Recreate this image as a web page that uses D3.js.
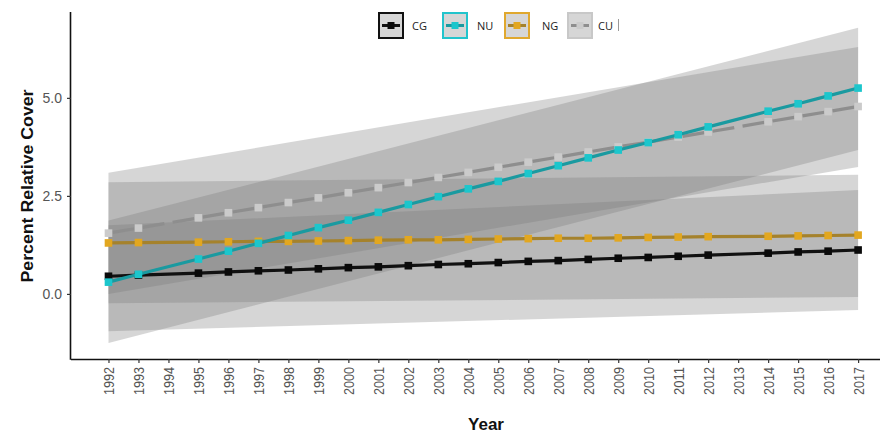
<!DOCTYPE html>
<html>
<head>
<meta charset="utf-8">
<script src="https://cdn.jsdelivr.net/npm/d3@7"></script>
<style>
  html, body { margin: 0; padding: 0; background: #fff; }
  svg { display: block; }
</style>
</head>
<body>
<svg id="chart" width="885" height="434"></svg>
<script>
// Survey years (no samples in 1994 and 2013)
const years = [1992, 1993, 1995, 1996, 1997, 1998, 1999, 2000, 2001, 2002, 2003,
  2004, 2005, 2006, 2007, 2008, 2009, 2010, 2011, 2012, 2014, 2015, 2016, 2017];

// Fitted percent relative cover per treatment
const cgValues = [0.45, 0.48, 0.53, 0.56, 0.59, 0.61, 0.64, 0.67, 0.69, 0.72, 0.75,
  0.77, 0.80, 0.83, 0.85, 0.88, 0.91, 0.93, 0.96, 0.99, 1.04, 1.07, 1.09, 1.12];
const nuValues = [0.30, 0.50, 0.89, 1.09, 1.29, 1.49, 1.69, 1.88, 2.08, 2.28, 2.48,
  2.68, 2.87, 3.07, 3.27, 3.47, 3.67, 3.86, 4.06, 4.26, 4.66, 4.85, 5.05, 5.25];
const ngValues = [1.30, 1.31, 1.32, 1.33, 1.34, 1.34, 1.35, 1.36, 1.37, 1.38, 1.38,
  1.39, 1.40, 1.41, 1.42, 1.42, 1.43, 1.44, 1.45, 1.46, 1.47, 1.48, 1.49, 1.50];
const cuValues = [1.55, 1.68, 1.94, 2.07, 2.20, 2.33, 2.45, 2.58, 2.71, 2.84, 2.97,
  3.10, 3.23, 3.36, 3.49, 3.62, 3.75, 3.87, 4.00, 4.13, 4.39, 4.52, 4.65, 4.78];

// Confidence ribbons (straight edges between first and last year)
const bandYears = [1992, 2017];
const cgLow = [-0.95, -0.41], cgHigh = [1.75, 2.65];
const nuLow = [-1.25, 3.67], nuHigh = [1.87, 6.79];
const ngLow = [-0.24, -0.08], ngHigh = [2.85, 3.04];
const cuLow = [0.00, 3.24], cuHigh = [3.09, 6.30];

// Axis ticks
const tickYears = d3.range(1992, 2018);
const yTicks = [0, 2.5, 5.0];
const seriesNames = ["CG", "NU", "NG", "CU"];

const series = [
  { name: "CG", values: cgValues, low: cgLow, high: cgHigh, line: "#111111", marker: "#0a0a0a", border: "#111111", dash: null },
  { name: "NG", values: ngValues, low: ngLow, high: ngHigh, line: "#a5822c", marker: "#e2a720", border: "#e0a82e", dash: null },
  { name: "CU", values: cuValues, low: cuLow, high: cuHigh, line: "#8e8e8e", marker: "#cbcbcb", border: "#c8c8c8", dash: "22 8.42" },
  { name: "NU", values: nuValues, low: nuLow, high: nuHigh, line: "#1a9aa0", marker: "#1cc6cc", border: "#22c4cc", dash: null }
];
const byName = Object.fromEntries(series.map(s => [s.name, s]));

const svg = d3.select("#chart");
const plotLeft = 71, plotRight = 880, plotTop = 12, plotBottom = 359;

const x = d3.scaleLinear().domain([1990.75, 2017.73]).range([plotLeft, plotRight]);
const y = d3.scaleLinear().domain([-1.66, 7.19]).range([plotBottom, plotTop]);

// Ribbons
const area = d3.area()
  .x(d => x(d.year))
  .y0(d => y(d.low))
  .y1(d => y(d.high));
const bands = svg.append("g");
["CG", "NU", "NG", "CU"].forEach(n => {
  const s = byName[n];
  const pts = bandYears.map((yr, i) => ({ year: yr, low: s.low[i], high: s.high[i] }));
  bands.append("path")
    .attr("d", area(pts))
    .attr("fill", "#777")
    .attr("fill-opacity", 0.3);
});

// Lines and markers
const line = d3.line().x(d => x(d.year)).y(d => y(d.v));
const lines = svg.append("g");
series.forEach(s => {
  const pts = years.map((yr, i) => ({ year: yr, v: s.values[i] }));
  const p = lines.append("path")
    .attr("d", line(pts))
    .attr("fill", "none")
    .attr("stroke", s.line)
    .attr("stroke-width", 3.2)
    .attr("stroke-linejoin", "round");
  if (s.dash) p.attr("stroke-dasharray", s.dash).attr("stroke-dashoffset", 26.2);
  lines.append("g").selectAll("rect")
    .data(pts)
    .join("rect")
    .attr("x", d => x(d.year) - 3.8)
    .attr("y", d => y(d.v) - 3.8)
    .attr("width", 7.6)
    .attr("height", 7.6)
    .attr("fill", s.marker);
});

// X axis
const xAxis = svg.append("g")
  .attr("transform", `translate(0,${plotBottom})`)
  .call(d3.axisBottom(x).tickValues(tickYears).tickFormat(d3.format("d")).tickSize(4).tickSizeOuter(0));
xAxis.select(".domain").attr("stroke", "#111").attr("stroke-width", 1.6)
  .attr("d", `M${plotLeft},0.5H${plotRight}`);
xAxis.selectAll(".tick line").attr("stroke", "#333").attr("stroke-width", 1.2);
xAxis.selectAll(".tick text")
  .attr("font-family", "Liberation Sans, Arial, sans-serif")
  .attr("font-size", 15)
  .attr("fill", "#555")
  .attr("transform", "rotate(-90)")
  .attr("text-anchor", "end")
  .attr("x", -8)
  .attr("y", 0)
  .attr("dy", "0.36em")
  .attr("textLength", 28)
  .attr("lengthAdjust", "spacingAndGlyphs");

// Y axis
const yAxis = svg.append("g")
  .attr("transform", `translate(${plotLeft},0)`)
  .call(d3.axisLeft(y).tickValues(yTicks).tickFormat(d3.format(".1f")).tickSize(4).tickSizeOuter(0));
yAxis.select(".domain").attr("stroke", "#111").attr("stroke-width", 1.6)
  .attr("d", `M-0.5,${plotTop}V${plotBottom + 0.8}`);
yAxis.selectAll(".tick line").attr("stroke", "#333").attr("stroke-width", 1.2);
yAxis.selectAll(".tick text")
  .attr("font-family", "Liberation Sans, Arial, sans-serif")
  .attr("font-size", 14)
  .attr("fill", "#555")
  .attr("x", -9);

// Axis titles
svg.append("text")
  .attr("x", 486).attr("y", 429.5)
  .attr("text-anchor", "middle")
  .attr("font-family", "Liberation Sans, Arial, sans-serif")
  .attr("font-weight", "bold")
  .attr("font-size", 17)
  .attr("fill", "#111")
  .text("Year");

svg.append("text")
  .attr("transform", "translate(33,186) rotate(-90)")
  .attr("text-anchor", "middle")
  .attr("font-family", "Liberation Sans, Arial, sans-serif")
  .attr("font-weight", "bold")
  .attr("font-size", 17)
  .attr("fill", "#111")
  .attr("textLength", 193)
  .attr("lengthAdjust", "spacingAndGlyphs")
  .text("Percent Relative Cover");

// Legend
const legendX = [378, 442, 504, 567];
const legend = svg.append("g");
seriesNames.forEach((n, i) => {
  const s = byName[n];
  const g = legend.append("g").attr("transform", `translate(${legendX[i]},12)`);
  g.append("rect")
    .attr("x", 1).attr("y", 1).attr("width", 24).attr("height", 25)
    .attr("fill", "#d6d6d6")
    .attr("stroke", s.border).attr("stroke-width", 2);
  g.append("line")
    .attr("x1", 4).attr("x2", 22).attr("y1", 13.5).attr("y2", 13.5)
    .attr("stroke", s.line).attr("stroke-width", 3);
  g.append("rect")
    .attr("x", 9.5).attr("y", 10).attr("width", 7).attr("height", 7)
    .attr("fill", s.marker);
  g.append("text")
    .attr("x", n === "CG" ? 34 : n === "NU" ? 35 : n === "NG" ? 38 : 31)
    .attr("y", 17.5)
    .attr("font-family", "Open Sans, Noto Sans, sans-serif")
    .attr("font-size", 11)
    .attr("fill", "#222")
    .text(n);
});
legend.append("line")
  .attr("x1", 618.5).attr("x2", 618.5).attr("y1", 19).attr("y2", 31)
  .attr("stroke", "#9a9a9a").attr("stroke-width", 1);
</script>
</body>
</html>
